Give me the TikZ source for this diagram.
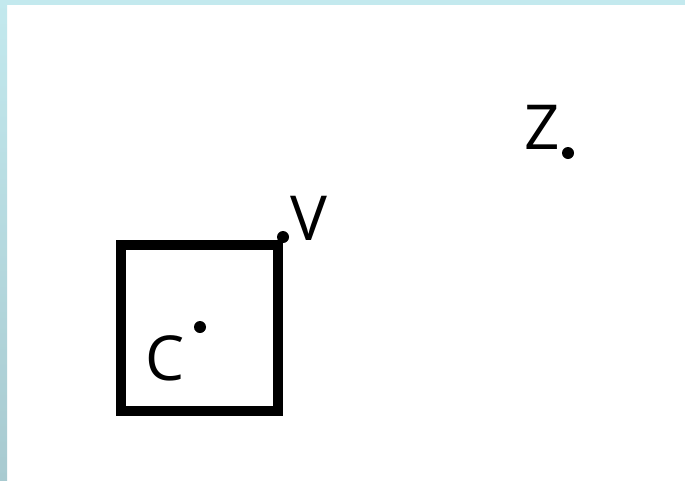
\documentclass[tikz,border=0pt]{standalone}
\usepackage{fontspec}
\setmainfont{Open Sans}
\definecolor{bandtop}{HTML}{C3E9EE}
\definecolor{bandbot}{HTML}{A8CAD0}
\begin{document}
\begin{tikzpicture}[x=1pt,y=-1pt,
  dot/.style={circle,fill=black,inner sep=0pt,minimum size=12pt},
  lbl/.style={anchor=base west,inner sep=0pt,font=\fontsize{62}{62}\selectfont},
  sq/.style={draw=black,line width=10pt,inner sep=0pt,minimum width=157pt,minimum height=166pt}]
\useasboundingbox (0,0) rectangle (685,480);
\fill[white] (0,0) rectangle (685,480);
\fill[bandtop] (0,0) rectangle (685,5);
\shade[top color=bandtop,bottom color=bandbot] (0,0) rectangle (7,480);
\node[sq] (box) at (199.5,328) {};
\node[dot] (V) at (283,237) {};
\node[dot] (Z) at (568,153) {};
\node[dot] (C) at (200,327) {};
\node[lbl] (Vl) at (290,240) {V};
\node[lbl] (Zl) at (524,149) {Z};
\node[lbl] (Cl) at (145,380) {C};
\end{tikzpicture}
\end{document}
